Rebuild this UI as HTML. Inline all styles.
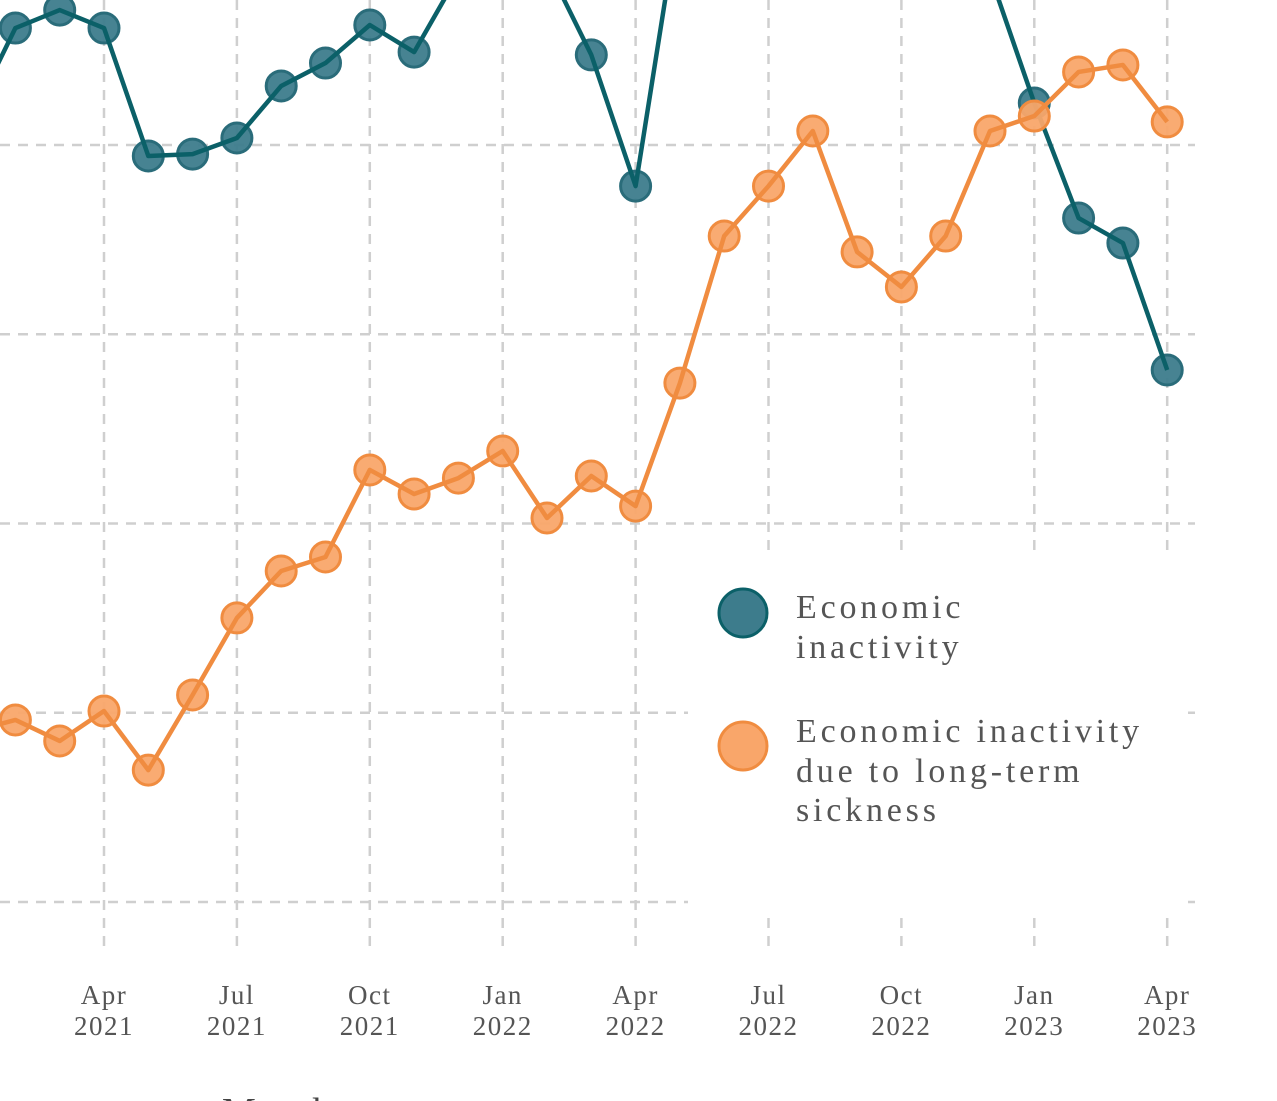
<!DOCTYPE html>
<html><head><meta charset="utf-8"><style>
html,body{margin:0;padding:0;background:#fff;}
svg{display:block;font-family:"Liberation Serif",serif;}
</style></head><body>
<svg id="chart" width="1277" height="1101" viewBox="0 0 1277 1101">
<g id="grid"></g>
<g id="series"></g>
<rect x="688" y="553" width="495" height="357" fill="#fff"/>
<g id="xticks"></g>
<text x="222" y="1124" font-size="38" fill="#444" letter-spacing="2">Month</text>
<g>
 <g>
  <circle cx="743" cy="613" r="24" fill="#3d7c8c" stroke="#0b6068" stroke-width="3"/>
  <text x="796" y="618" font-size="34" fill="#555" letter-spacing="3.8">Economic</text>
  <text x="796" y="658" font-size="34" fill="#555" letter-spacing="3.8">inactivity</text>
 </g>
 <g>
  <circle cx="743" cy="746" r="24" fill="#f9a66a" stroke="#f08c40" stroke-width="3"/>
  <text x="796" y="742" font-size="34" fill="#555" letter-spacing="3.8">Economic inactivity</text>
  <text x="796" y="782" font-size="34" fill="#555" letter-spacing="3.8">due to long-term</text>
  <text x="796" y="821" font-size="34" fill="#555" letter-spacing="3.8">sickness</text>
 </g>
</g>
</svg>
<script>
// months index 0 = Jan 2021
const months = ["Jan 2021","Feb 2021","Mar 2021","Apr 2021","May 2021","Jun 2021","Jul 2021","Aug 2021","Sep 2021","Oct 2021","Nov 2021","Dec 2021","Jan 2022","Feb 2022","Mar 2022","Apr 2022","May 2022","Jun 2022","Jul 2022","Aug 2022","Sep 2022","Oct 2022","Nov 2022","Dec 2022","Jan 2023","Feb 2023","Mar 2023","Apr 2023"];
const inactivity = [4.14,4.618,4.713,4.618,3.942,3.952,4.037,4.312,4.433,4.634,4.491,4.9,4.977,4.95,4.476,3.783,5.258,5.507,5.613,5.56,5.4,5.295,5.083,4.9,4.222,3.614,3.482,2.811];
const sickness = [0.9,0.962,0.851,1.009,0.697,1.094,1.501,1.749,1.823,2.283,2.156,2.24,2.383,2.029,2.251,2.092,2.742,3.519,3.783,4.074,3.435,3.25,3.519,4.074,4.153,4.386,4.423,4.122];
const tickIdx = [3,6,9,12,15,18,21,24,27];
const tickMonth = ["Apr","Jul","Oct","Jan","Apr","Jul","Oct","Jan","Apr"];
const tickYear = ["2021","2021","2021","2022","2022","2022","2022","2023","2023"];
const yTicks = [0,1,2,3,4];

const NS="http://www.w3.org/2000/svg";
const xS = i => 104 + (i-3)*44.3;
const yS = v => 902 - v*189.25;
function mk(tag,attrs,parent){const e=document.createElementNS(NS,tag);for(const k in attrs)e.setAttribute(k,attrs[k]);parent.appendChild(e);return e;}
const grid=document.getElementById('grid');
yTicks.forEach((t,i)=>{
  const l=mk('line',{x1:0,x2:1195,y1:yS(t),y2:yS(t),stroke:'#cfcfcf','stroke-width':2.5,'stroke-dasharray':'10 8'},grid);
  
  
});
tickIdx.forEach(i=>{
  const l=mk('line',{x1:xS(i),x2:xS(i),y1:0,y2:950,stroke:'#cfcfcf','stroke-width':2.5,'stroke-dasharray':'10 8'},grid);
  
  
});
const xt=document.getElementById('xticks');
tickIdx.forEach((i,k)=>{
  const t=mk('text',{x:xS(i),y:1004,'font-size':27,fill:'#555','text-anchor':'middle','letter-spacing':1.5},xt);
  t.textContent=tickMonth[k];
  
  
  const t2=mk('text',{x:xS(i),y:1035,'font-size':27,fill:'#555','text-anchor':'middle','letter-spacing':1.5},xt);
  t2.textContent=tickYear[k];
  
  
});
const sg=document.getElementById('series');
function drawSeries(vals,line,fill,stroke,name){
  const g=mk('g',{},sg);
  
  
  vals.forEach((v,i)=>{
    const c=mk('circle',{cx:xS(i),cy:yS(v),r:15,fill:fill,'fill-opacity':0.95,stroke:stroke,'stroke-width':3},g);
    
    
  });
  const p=mk('polyline',{points:vals.map((v,i)=>xS(i)+','+yS(v)).join(' '),fill:'none',stroke:line,'stroke-width':4.5,'stroke-linejoin':'round'},g);
  
  
}
drawSeries(inactivity,'#0b6068','#3d7c8c','#2a6c7a','inactivity-series');
drawSeries(sickness,'#f08c40','#f9a66a','#f08c40','sickness-series');
</script>
</body></html>
